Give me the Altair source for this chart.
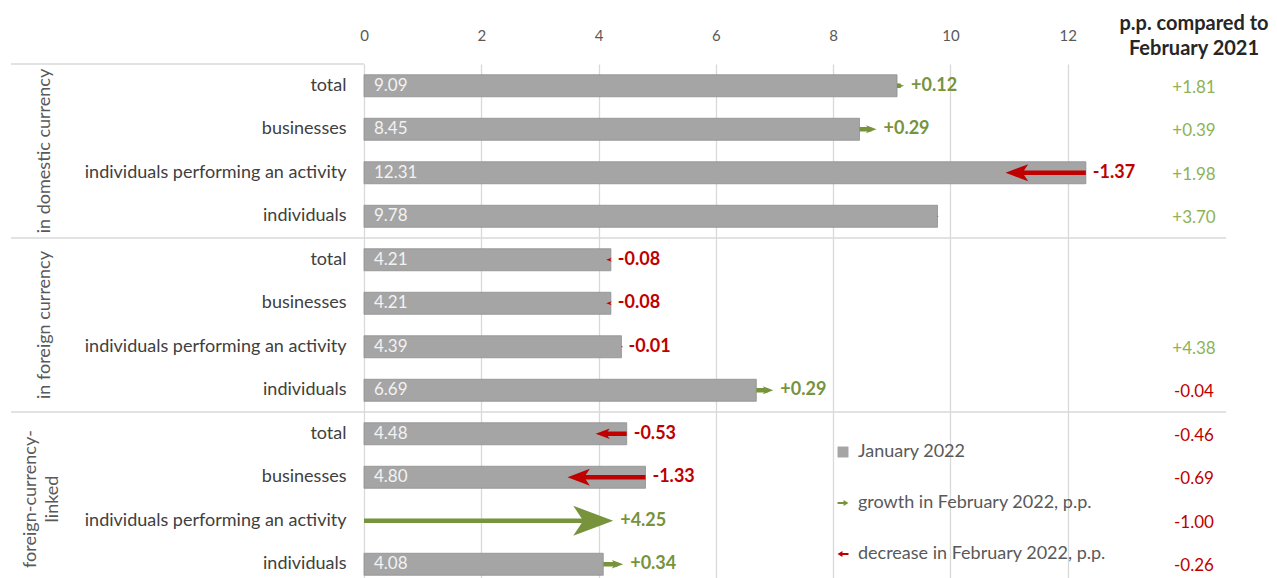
import altair as alt
import pandas as pd

# ---------------- data ----------------
groups = ["in domestic currency", "in foreign currency", "foreign-currency-\nlinked"]
categories = ["total", "businesses", "individuals performing an activity", "individuals"]
jan_2022 = [9.09, 8.45, 12.31, 9.78,
            4.21, 4.21, 4.39, 6.69,
            4.48, 4.80, None, 4.08]
change_feb_2022 = [0.12, 0.29, -1.37, -0.004,
                   -0.08, -0.08, -0.01, 0.29,
                   -0.53, -1.33, 4.25, 0.34]
vs_feb_2021 = [1.81, 0.39, 1.98, 3.70,
               None, None, 4.38, -0.04,
               -0.46, -0.69, -1.00, -0.26]
x_ticks = [0, 2, 4, 6, 8, 10, 12]
legend_labels = ["January 2022", "growth in February 2022, p.p.", "decrease in February 2022, p.p."]
right_header = ["p.p. compared to\nFebruary 2021"]

# ---------------- styling ----------------
W, H = 862, 522
X_MAX = 14.7
GREY = "#A5A5A5"
GREEN = "#77933C"
RED = "#C00000"
LIGHT_GREEN = "#8DB255"
TXT = "#595959"
GRID = "#D9D9D9"
FONT = "Lato"

HEAD_R = "M 0 0 L -2 -0.75 L -1.5 0 L -2 0.75 Z"
HEAD_L = "M 0 0 L 2 -0.75 L 1.5 0 L 2 0.75 Z"
ARROW_R = "M -1 -0.2 L 0.1 -0.2 L 0.1 -0.55 L 1 0 L 0.1 0.55 L 0.1 0.2 L -1 0.2 Z"
ARROW_L = "M 1 -0.2 L -0.1 -0.2 L -0.1 -0.55 L -1 0 L -0.1 0.55 L -0.1 0.2 L 1 0.2 Z"

rows = []
for gi, g in enumerate(groups):
    for ci, c in enumerate(categories):
        i = gi * len(categories) + ci
        rows.append({"key": f"{gi}|{c}", "group": g, "cat": c, "gi": gi, "ci": ci,
                     "multiline": "\n" in g,
                     "jan": jan_2022[i], "chg": change_feb_2022[i], "yoy": vs_feb_2021[i]})
df = pd.DataFrame(rows)
keys = list(df["key"])

x_scale = alt.Scale(domain=[0, X_MAX], nice=False, zero=True)
x_axis = alt.Axis(orient="top", values=x_ticks, format="d", labelFlush=False,
                  grid=True, gridColor=GRID, gridWidth=1.3,
                  domain=False, ticks=False, tickSize=0, labelPadding=21,
                  labelFont=FONT, labelFontSize=15, labelColor=TXT, title=None)
y_scale = alt.Scale(domain=keys, paddingInner=0, paddingOuter=0)
y_axis = alt.Axis(title=None, labelExpr="split(datum.label, '|')[1]", domain=False,
                  ticks=False, tickSize=0, labelPadding=18, labelFont=FONT,
                  labelFontSize=18, labelColor="#404040", labelLimit=400, grid=False)


def X(field):
    return alt.X(field, type="quantitative", scale=x_scale, axis=x_axis)


def Y(**kw):
    return alt.Y("key:N", scale=y_scale, axis=y_axis, **kw)


base = alt.Chart(df).transform_calculate(
    start="isValid(datum.jan) ? datum.jan : 0"
).transform_calculate(
    tip="datum.start + datum.chg",
    labx="max(datum.start, datum.start + datum.chg)",
    absch="abs(datum.chg)",
    shaft_end="datum.start + datum.chg - (datum.chg > 0 ? 1 : -1) * 0.165 * sqrt(abs(datum.chg))",
    chg_label="(datum.chg > 0 ? '+' : '-') + format(abs(datum.chg), '.2f')",
    yoy_label="(datum.yoy >= 0 ? '+' : '-') + format(abs(datum.yoy), '.2f')",
)

sep_full = base.transform_filter("datum.ci == 0 && datum.gi > 0").mark_rule(
    color=GRID, strokeWidth=1.5).encode(
    y=Y(bandPosition=0), x=alt.value(-353), x2=alt.value(W))
sep_top = base.transform_filter("datum.ci == 0 && datum.gi == 0").mark_rule(
    color=GRID, strokeWidth=1.5).encode(
    y=Y(bandPosition=0), x=alt.value(-353), x2=alt.value(0))

bars = base.transform_filter("isValid(datum.jan)").mark_bar(
    color=GREY, stroke="#8F8F8F", strokeWidth=0.8, size=22).encode(
    x=X("jan"), y=Y())

bar_labels = base.transform_filter("isValid(datum.jan)").mark_text(
    align="left", baseline="middle", dx=10, color="#F2F2F2", fontSize=17, font=FONT).encode(
    x=alt.datum(0), y=Y(), text=alt.Text("jan:Q", format=".2f"))

arrow_color = alt.when(alt.datum.chg > 0).then(alt.value(GREEN)).otherwise(alt.value(RED))

shafts = base.transform_filter("datum.absch >= 0.1").mark_rule(strokeWidth=4.5).encode(
    x=X("start"), x2=alt.X2("shaft_end"), y=Y(), color=arrow_color)

size_enc = alt.Size("absch:Q", scale=alt.Scale(domain=[0, 4.25], range=[0, 1600], zero=True),
                    legend=None)
heads_r = base.transform_filter("datum.chg > 0").mark_point(
    shape=HEAD_R, filled=True, color=GREEN, opacity=1, strokeWidth=0).encode(
    x=X("tip"), y=Y(), size=size_enc)
heads_l = base.transform_filter("datum.chg < 0").mark_point(
    shape=HEAD_L, filled=True, color=RED, opacity=1, strokeWidth=0).encode(
    x=X("tip"), y=Y(), size=size_enc)

chg_labels = base.transform_filter("datum.absch >= 0.005").mark_text(
    align="left", baseline="middle", dx=7, fontSize=18, fontWeight="bold", font=FONT).encode(
    x=X("labx"), y=Y(), text="chg_label:N", color=arrow_color)

yoy_color = alt.when(alt.datum.yoy >= 0).then(alt.value(LIGHT_GREEN)).otherwise(alt.value(RED))
yoy_labels = base.transform_filter("isValid(datum.yoy)").mark_text(
    align="center", baseline="middle", dy=2, fontSize=17, font=FONT).encode(
    x=alt.value(830), y=Y(), text="yoy_label:N", color=yoy_color)

group_labels_1 = base.transform_filter("datum.ci == 1 && !datum.multiline").mark_text(
    angle=270, align="center", baseline="middle",
    fontSize=18, font=FONT, color=TXT).encode(
    x=alt.value(-319), y=Y(bandPosition=1), text="group:N")
group_labels_2 = base.transform_filter("datum.ci == 1 && datum.multiline").mark_text(
    angle=270, align="center", baseline="middle", lineBreak="\n", lineHeight=22,
    fontSize=18, font=FONT, color=TXT).encode(
    x=alt.value(-333), y=Y(bandPosition=1), text="group:N")

header = alt.Chart(pd.DataFrame({"t": right_header})).mark_text(
    align="center", baseline="middle", lineBreak="\n", lineHeight=25,
    fontSize=20, fontWeight="bold", font=FONT, color="#262626").encode(
    x=alt.value(830), y=alt.value(-40), text="t:N")

leg = alt.Legend(title=None, orient="none", legendX=470, legendY=379, direction="vertical",
                 labelFont=FONT, labelFontSize=18, labelColor=TXT, symbolSize=120,
                 rowPadding=33, labelOffset=6, symbolStrokeWidth=0, labelLimit=400)
legend_layer = alt.Chart(pd.DataFrame({"entry": legend_labels})).transform_filter(
    "false").mark_point(filled=True, opacity=1).encode(
    color=alt.Color("entry:N", scale=alt.Scale(domain=legend_labels, range=[GREY, GREEN, RED]),
                    legend=leg),
    shape=alt.Shape("entry:N", scale=alt.Scale(domain=legend_labels,
                                               range=["square", ARROW_R, ARROW_L]),
                    legend=leg))

chart = alt.layer(
    sep_full, sep_top, bars, bar_labels, shafts, heads_r, heads_l, chg_labels,
    yoy_labels, group_labels_1, group_labels_2, header, legend_layer
).properties(
    width=W, height=H,
    padding={"left": 2, "top": 6, "right": 0, "bottom": 0},
    background="white",
).configure_view(stroke=None)

chart.save("out.html", embed_options={"renderer": "svg", "actions": False})
